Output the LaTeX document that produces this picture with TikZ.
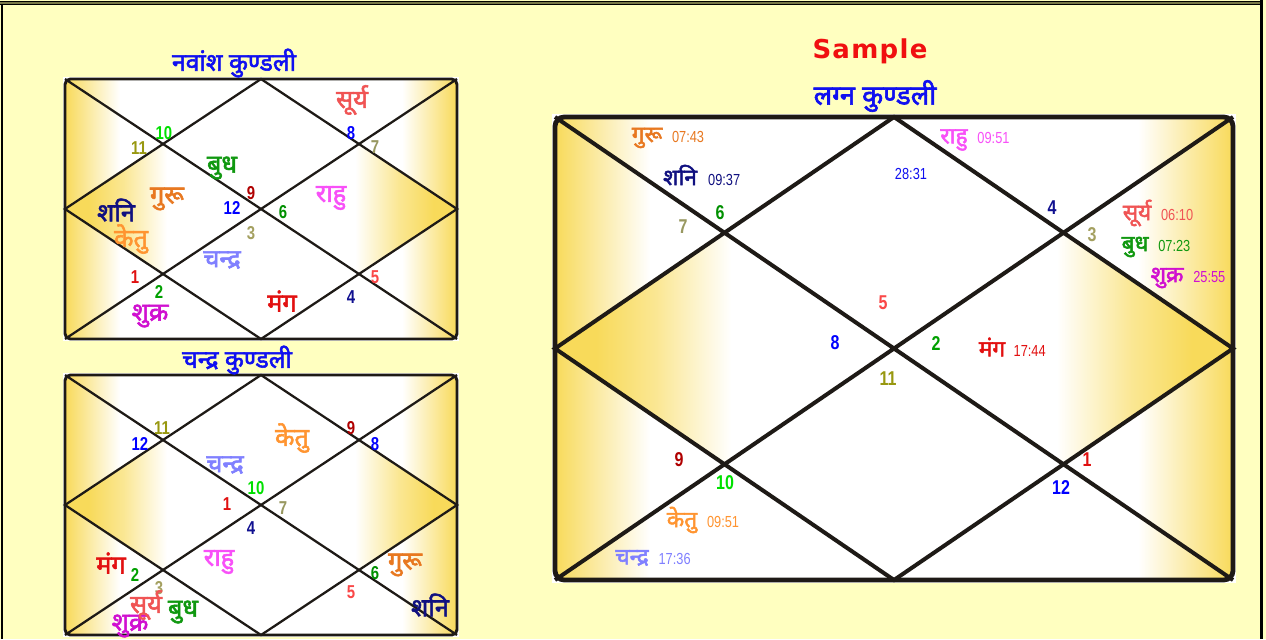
\documentclass[tikz,border=0pt]{standalone}
\usepackage{fontspec}
\setmainfont{Liberation Sans}
\newfontfamily\devafont[Script=Devanagari, FakeBold=2.2]{Noto Sans}
\newfontfamily\numfont[FakeStretch=0.8]{Liberation Sans}
\newfontfamily\samplefont[LetterSpace=5]{DejaVu Sans}
\usetikzlibrary{positioning}
\definecolor{pagebg}{RGB}{255,255,192}
\definecolor{kgold}{RGB}{248,218,90}
\definecolor{kline}{RGB}{30,26,22}
\definecolor{bandolive}{RGB}{120,120,72}
\definecolor{titleblue}{RGB}{16,16,240}
\definecolor{samplered}{RGB}{240,16,16}
% planets
\definecolor{suryacol}{RGB}{240,84,84}
\definecolor{chandracol}{RGB}{128,128,255}
\definecolor{mangalcol}{RGB}{226,16,16}
\definecolor{budhcol}{RGB}{16,152,16}
\definecolor{gurucol}{RGB}{232,120,32}
\definecolor{shukracol}{RGB}{208,16,208}
\definecolor{shanicol}{RGB}{16,16,128}
\definecolor{rahucol}{RGB}{248,80,248}
\definecolor{ketucol}{RGB}{255,148,48}
% house numbers
\definecolor{hcOne}{RGB}{224,16,16}
\definecolor{hcTwo}{RGB}{0,160,0}
\definecolor{hcThree}{RGB}{164,160,96}
\definecolor{hcFour}{RGB}{16,16,144}
\definecolor{hcFive}{RGB}{250,72,72}
\definecolor{hcSix}{RGB}{0,144,0}
\definecolor{hcSeven}{RGB}{152,152,96}
\definecolor{hcEight}{RGB}{0,0,255}
\definecolor{hcNine}{RGB}{176,0,0}
\definecolor{hcTen}{RGB}{0,224,0}
\definecolor{hcEleven}{RGB}{152,152,16}
\definecolor{hcTwelve}{RGB}{0,0,255}
\pgfdeclarehorizontalshading{kundlishade}{100bp}{color(0bp)=(kgold); color(25bp)=(kgold); color(32bp)=(white); color(68bp)=(white); color(75bp)=(kgold); color(100bp)=(kgold)}
\pgfdeclarehorizontalshading{rhombleft}{100bp}{color(0bp)=(kgold); color(25bp)=(kgold); color(31bp)=(kgold); color(40bp)=(kgold!65!white); color(51bp)=(white); color(100bp)=(white)}
\pgfdeclarehorizontalshading{rhombright}{100bp}{color(0bp)=(white); color(49bp)=(white); color(60bp)=(kgold!65!white); color(69bp)=(kgold); color(75bp)=(kgold); color(100bp)=(kgold)}

\begin{document}
\begin{tikzpicture}[
    x=0.75pt, y=-0.75pt,
    ktitle/.style={font=\devafont\fontsize{18.5}{18.5}\selectfont, text=titleblue, inner sep=0pt},
    splanet/.style={font=\devafont\fontsize{19}{19}\selectfont, inner sep=0pt},
    lplanet/.style={font=\devafont\fontsize{17}{17}\selectfont, inner sep=0pt},
    hnum/.style={font=\numfont\bfseries\fontsize{14}{14}\selectfont, inner sep=0pt},
    lnum/.style={font=\numfont\bfseries\fontsize{15}{15}\selectfont, inner sep=0pt},
    tlbl/.style={font=\numfont\fontsize{12}{12}\selectfont, inner sep=0pt, anchor=base west},
    sline/.style={draw=kline, line width=1.7pt},
    lline/.style={draw=kline, line width=3pt}
]
\useasboundingbox (0,0) rectangle (1266,639);
\fill[pagebg] (0,0) rectangle (1266,639);
% frame
\fill[black] (0,1) rectangle (1261,5.3);
\fill[bandolive] (0,2.4) rectangle (1261,3.9);
\fill[black] (1,5) rectangle (2.6,639);
\fill[black] (1260.4,0) rectangle (1262.6,639);

% ---------- navamsha chart ----------
\fill[white] (63,77) rectangle (459,341);
\shade[shading=kundlishade, rounded corners=4pt] (65,79) rectangle (457,339);
\begin{scope}
  \clip (65,209) -- (163,144) -- (261,209) -- (163,274) -- cycle;
  \shade[shading=rhombleft] (65,144) rectangle (261,274);
\end{scope}
\begin{scope}
  \clip (457,209) -- (359,144) -- (261,209) -- (359,274) -- cycle;
  \shade[shading=rhombright] (261,144) rectangle (457,274);
\end{scope}
\draw[sline, line width=2.2pt, rounded corners=4pt] (65,79) rectangle (457,339);
\draw[sline] (65,79) -- (457,339) (65,339) -- (457,79);
\draw[sline] (261,79) -- (457,209) -- (261,339) -- (65,209) -- cycle;

\node[ktitle] (navTitle) at (234,63) {नवांश कुण्डली};
\node[splanet, text=suryacol] (navSurya) at (352,100) {सूर्य};
\node[hnum, text=hcEight] (navH8) at (351,133) {8};
\node[hnum, text=hcSeven] (navH7) at (375,147) {7};
\node[hnum, text=hcTen] (navH10) at (164,133) {10};
\node[hnum, text=hcEleven] (navH11) at (139,148) {11};
\node[splanet, text=budhcol] (navBudh) at (222,168) {बुध};
\node[hnum, text=hcNine] (navH9) at (251,193) {9};
\node[hnum, text=hcTwelve] (navH12) at (232,208) {12};
\node[hnum, text=hcSix] (navH6) at (283,212) {6};
\node[splanet, text=rahucol] (navRahu) at (331,198) {राहु};
\node[splanet, text=gurucol] (navGuru) at (167,199) {गुरू};
\node[splanet, text=shanicol] (navShani) at (116,210) {शनि};
\node[splanet, text=ketucol] (navKetu) at (131,239) {केतु};
\node[hnum, text=hcThree] (navH3) at (251,233) {3};
\node[splanet, text=chandracol] (navChandra) at (222,260) {चन्द्र};
\node[hnum, text=hcOne] (navH1) at (135,277) {1};
\node[hnum, text=hcTwo] (navH2) at (159,292) {2};
\node[splanet, text=shukracol] (navShukra) at (150,316) {शुक्र};
\node[splanet, text=mangalcol] (navMangal) at (282,301) {मंग};
\node[hnum, text=hcFive] (navH5) at (375,277) {5};
\node[hnum, text=hcFour] (navH4) at (351,297) {4};

% ---------- chandra chart ----------
\fill[white] (63,373) rectangle (459,637);
\shade[shading=kundlishade, rounded corners=4pt] (65,375) rectangle (457,635);
\begin{scope}
  \clip (65,505) -- (163,440) -- (261,505) -- (163,570) -- cycle;
  \shade[shading=rhombleft] (65,440) rectangle (261,570);
\end{scope}
\begin{scope}
  \clip (457,505) -- (359,440) -- (261,505) -- (359,570) -- cycle;
  \shade[shading=rhombright] (261,440) rectangle (457,570);
\end{scope}
\draw[sline, line width=2.2pt, rounded corners=4pt] (65,375) rectangle (457,635);
\draw[sline] (65,375) -- (457,635) (65,635) -- (457,375);
\draw[sline] (261,375) -- (457,505) -- (261,635) -- (65,505) -- cycle;

\node[ktitle] (chTitle) at (237,360) {चन्द्र कुण्डली};
\node[hnum, text=hcEleven] (chH11) at (162,428) {11};
\node[hnum, text=hcTwelve] (chH12) at (140,444) {12};
\node[splanet, text=ketucol] (chKetu) at (292,438) {केतु};
\node[hnum, text=hcNine] (chH9) at (351,428) {9};
\node[hnum, text=hcEight] (chH8) at (375,444) {8};
\node[splanet, text=chandracol] (chChandra) at (225,465) {चन्द्र};
\node[hnum, text=hcTen] (chH10) at (256,488) {10};
\node[hnum, text=hcOne] (chH1) at (227,504) {1};
\node[hnum, text=hcSeven] (chH7) at (283,508) {7};
\node[hnum, text=hcFour] (chH4) at (251,528) {4};
\node[splanet, text=rahucol] (chRahu) at (219,562) {राहु};
\node[splanet, text=mangalcol] (chMangal) at (111,563) {मंग};
\node[hnum, text=hcTwo] (chH2) at (135,575) {2};
\node[splanet, text=gurucol] (chGuru) at (405,565) {गुरू};
\node[hnum, text=hcSix] (chH6) at (375,573) {6};
\node[hnum, text=hcThree] (chH3) at (159,588) {3};
\node[splanet, text=shukracol] (chShukra) at (130,626) {शुक्र};
\node[splanet, text=suryacol] (chSurya) at (146,605) {सूर्य};
\node[splanet, text=budhcol] (chBudh) at (183,612) {बुध};
\node[hnum, text=hcFive] (chH5) at (351,592) {5};
\node[splanet, text=shanicol] (chShani) at (430,605) {शनि};

% ---------- lagna chart ----------
\node[font=\samplefont\bfseries\fontsize{19.5}{19.5}\selectfont, text=samplered, inner sep=0pt] (sample) at (870,51) {Sample};
\node[ktitle, font=\devafont\fontsize{20.5}{20.5}\selectfont] (lgTitle) at (875,96) {लग्न कुण्डली};
\fill[white] (552,114) rectangle (1236,583);
\shade[shading=kundlishade, rounded corners=7pt] (555,117) rectangle (1233,580);
\begin{scope}
  \clip (555,348.5) -- (724.5,232.75) -- (894,348.5) -- (724.5,464.25) -- cycle;
  \shade[shading=rhombleft] (555,232.75) rectangle (894,464.25);
\end{scope}
\begin{scope}
  \clip (1233,348.5) -- (1063.5,232.75) -- (894,348.5) -- (1063.5,464.25) -- cycle;
  \shade[shading=rhombright] (894,232.75) rectangle (1233,464.25);
\end{scope}
\draw[lline, line width=3.6pt, rounded corners=7pt] (555,117) rectangle (1233,580);
\draw[lline] (555,117) -- (1233,580) (555,580) -- (1233,117);
\draw[lline] (894,117) -- (1233,348.5) -- (894,580) -- (555,348.5) -- cycle;

\node[lplanet, text=gurucol] (lgGuru) at (647,138) {गुरू};
\node[tlbl, text=gurucol] (lgGuruT) at ([xshift=7pt]lgGuru.base east) {07:43};
\node[lplanet, text=shanicol] (lgShani) at (680,175) {शनि};
\node[tlbl, text=shanicol] (lgShaniT) at ([xshift=8pt]lgShani.base east) {09:37};
\node[lnum, text=hcSix] (lgH6) at (720,213) {6};
\node[lnum, text=hcSeven] (lgH7) at (683,227) {7};
\node[lplanet, text=rahucol] (lgRahu) at (954,140) {राहु};
\node[tlbl, text=rahucol] (lgRahuT) at ([xshift=7pt]lgRahu.base east) {09:51};
\node[font=\numfont\fontsize{12}{12}\selectfont, inner sep=0pt, text=titleblue] (lgAsc) at (911,174) {28:31};
\node[lnum, text=hcFour] (lgH4) at (1052,208) {4};
\node[lnum, text=hcThree] (lgH3) at (1092,235) {3};
\node[lplanet, text=suryacol] (lgSurya) at (1137,213) {सूर्य};
\node[tlbl, text=suryacol] (lgSuryaT) at ([xshift=7pt]lgSurya.base east) {06:10};
\node[lplanet, text=budhcol] (lgBudh) at (1135,247) {बुध};
\node[tlbl, text=budhcol] (lgBudhT) at ([xshift=7pt]lgBudh.base east) {07:23};
\node[lplanet, text=shukracol] (lgShukra) at (1167,278) {शुक्र};
\node[tlbl, text=shukracol] (lgShukraT) at ([xshift=7pt]lgShukra.base east) {25:55};
\node[lnum, text=hcFive] (lgH5) at (883,303) {5};
\node[lnum, text=hcEight] (lgH8) at (835,343) {8};
\node[lnum, text=hcTwo] (lgH2) at (936,344) {2};
\node[lplanet, text=mangalcol] (lgMangal) at (992,347) {मंग};
\node[tlbl, text=mangalcol] (lgMangalT) at ([xshift=6pt]lgMangal.base east) {17:44};
\node[lnum, text=hcEleven] (lgH11) at (888,379) {11};
\node[lnum, text=hcNine] (lgH9) at (679,460) {9};
\node[lnum, text=hcTen] (lgH10) at (725,483) {10};
\node[lplanet, text=ketucol] (lgKetu) at (682,520) {केतु};
\node[tlbl, text=ketucol] (lgKetuT) at ([xshift=7pt]lgKetu.base east) {09:51};
\node[lplanet, text=chandracol] (lgChandra) at (632,558) {चन्द्र};
\node[tlbl, text=chandracol] (lgChandraT) at ([xshift=7pt]lgChandra.base east) {17:36};
\node[lnum, text=hcOne] (lgH1) at (1087,460) {1};
\node[lnum, text=hcTwelve] (lgH12) at (1061,488) {12};
\end{tikzpicture}
\end{document}
